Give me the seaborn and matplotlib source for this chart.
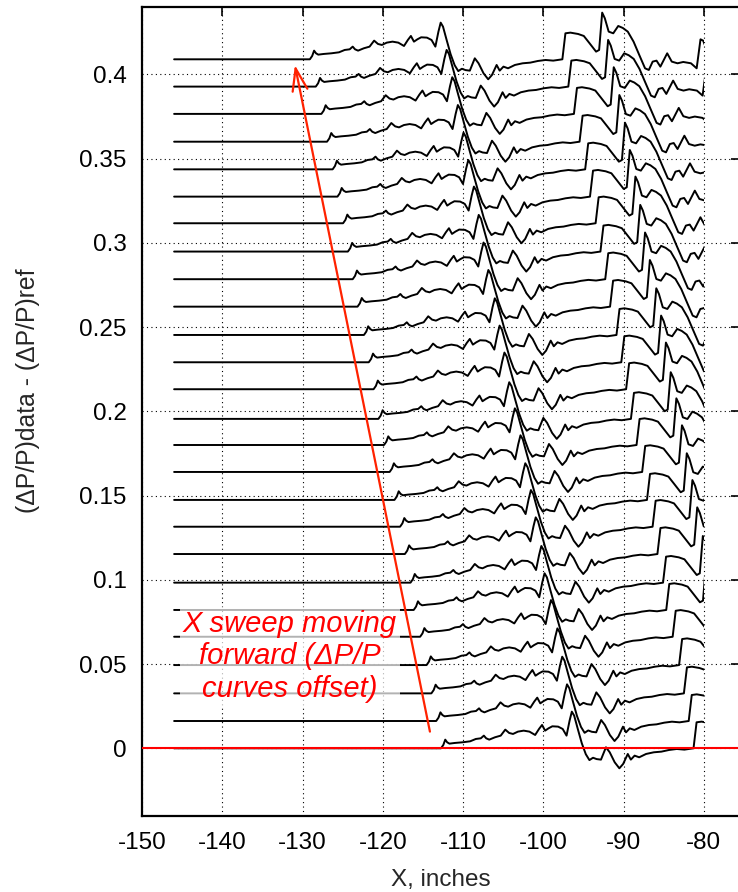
import numpy as np
import pandas as pd
import matplotlib
matplotlib.use("Agg")
import matplotlib.pyplot as plt
import seaborn as sns
from matplotlib.patches import Rectangle
from matplotlib import font_manager

# ---------------- data ----------------
# shape of the top (reference) trace after its first step, x in inches
ref_x = [-129.09, -128.80, -128.56, -128.32, -128.04, -127.37, -126.41, -125.46,
         -124.75, -124.13, -123.75, -123.46, -123.08, -122.37, -121.65, -121.08,
         -120.60, -120.12, -119.51, -118.79, -118.07, -117.36, -116.88, -116.50,
         -116.12, -115.69, -115.22, -114.50, -113.93, -113.45, -113.07, -112.79,
         -112.50, -112.05, -111.55, -111.05, -110.60, -110.15, -109.70, -109.16,
         -108.54, -108.07, -107.45, -106.87, -106.40, -105.82, -105.44, -104.97,
         -104.40, -103.54, -102.58, -101.63, -100.68, -99.72, -98.77, -97.63,
         -97.25, -96.63, -95.67, -94.96, -94.24, -93.43, -93.05, -92.67,
         -92.34, -91.86, -91.29, -90.67, -90.10, -89.48, -88.76, -88.05,
         -87.33, -86.86, -86.38, -85.90, -85.42, -84.57, -84.00, -83.28,
         -82.57, -81.61, -80.90, -80.42, -80.09, -79.80]
ref_dy = [0.0, 0.00198, 0.00514, 0.00356, 0.00277, 0.00317, 0.00356, 0.00415,
          0.00554, 0.00593, 0.00752, 0.00593, 0.00514, 0.00653, 0.00752, 0.01108,
          0.00910, 0.00851, 0.00989, 0.01048, 0.00989, 0.00791, 0.01147, 0.01385,
          0.01048, 0.01187, 0.01306, 0.01286, 0.01147, 0.00752, 0.01642, 0.02176,
          0.01939, 0.01150, 0.00300, -0.00350, -0.00700, -0.00560, -0.00640, -0.00673,
          0.00059, -0.00237, -0.00831, -0.01187, -0.00930, -0.00336, -0.00673, -0.00435,
          -0.00534, -0.00336, -0.00237, -0.00198, -0.00099, -0.00040, -0.00079, 0.0,
          0.01543, 0.01583, 0.01503, 0.01385, 0.00950, 0.00455, 0.00554, 0.02770,
          0.02433, 0.01642, 0.01543, 0.01978, 0.01860, 0.01642, 0.01048, 0.00257,
          -0.00534, -0.00633, -0.00138, -0.00079, -0.00435, 0.00356, -0.00138, -0.00237,
          -0.00158, -0.00237, -0.00534, 0.01187, 0.01108, 0.00752]

# position of the first step of every trace (bottom trace first)
step_x = [-112.6, -113.2, -113.8, -114.4, -115.2, -116.0, -116.4, -117.1, -117.7,
          -118.4, -119.0, -119.7, -120.4, -121.0, -121.6, -122.2, -123.0, -123.6,
          -124.2, -124.8, -125.5, -126.1, -126.8, -127.5, -128.2, -128.94]
# vertical offset of every trace
offsets = [0.0, 0.0162, 0.0326, 0.0494, 0.0662, 0.0821, 0.0983, 0.1153, 0.1315,
           0.1474, 0.1640, 0.1800, 0.1955, 0.2131, 0.2291, 0.2453, 0.2621, 0.2784,
           0.2948, 0.3116, 0.3274, 0.3436, 0.3600, 0.3765, 0.3927, 0.4089]
x_start = -146.0
x_end = -80.0

x_ticks = [-150, -140, -130, -120, -110, -100, -90, -80]
y_ticks = [0, 0.05, 0.1, 0.15, 0.2, 0.25, 0.3, 0.35, 0.4]
y_tick_labels = ["0", "0.05", "0.1", "0.15", "0.2", "0.25", "0.3", "0.35", "0.4"]

# ---------------- build table ----------------
rows = []
ref_step = step_x[-1]
for i, (sx, off) in enumerate(zip(step_x, offsets)):
    shift = sx - ref_step
    rows.append((i, x_start, off))
    for xx, dy in zip(ref_x, ref_dy):
        rows.append((i, xx + shift, off + dy))
df = pd.DataFrame(rows, columns=["curve", "x", "y"])

# ---------------- plot ----------------
sns.set_style("white")
plt.rcParams["font.family"] = ["Liberation Sans", "DejaVu Sans"]
installed = {f.name for f in font_manager.fontManager.ttflist}
narrow = "Liberation Sans Narrow" in installed

W, H = 738, 892
fig = plt.figure(figsize=(W / 100, H / 100), dpi=100)
ax = fig.add_axes([142 / W, (H - 815.7) / H, 598 / W, (815.7 - 6.9) / H])

sns.lineplot(data=df, x="x", y="y", units="curve", estimator=None, sort=False,
             color="black", lw=1.4, ax=ax, legend=False)
clip = Rectangle((-150, -1), x_end + 150, 2, transform=ax.transData)
for ln in ax.lines:
    ln.set_clip_path(clip)
    ln.set_solid_joinstyle("round")
    ln.set_solid_capstyle("round")

ax.axhline(0, color="#ff0000", lw=1.5, zorder=3)

ax.set_xlim(-150, -75.5)
ax.set_ylim(-0.04, 0.44)
ax.set_xticks(x_ticks)
ax.set_xticklabels([str(t) for t in x_ticks])
ax.set_yticks(y_ticks)
ax.set_yticklabels(y_tick_labels)
ax.grid(True, color="black", linestyle=(0, (1, 3)), lw=0.8)
ax.set_axisbelow(True)
ax.tick_params(direction="in", length=6.5, width=1.2, top=True, right=True,
               labelsize=17.5, colors="black")
ax.tick_params(axis="x", pad=11.5)
ax.tick_params(axis="y", pad=11)
for s in ax.spines.values():
    s.set_linewidth(1.6)
    s.set_color("black")

ax.set_xlabel("X, inches", fontsize=17.5)
ax.xaxis.set_label_coords(0.5, -0.0660)
if narrow:
    ax.set_ylabel("(\u0394P/P)data - (\u0394P/P)ref", fontsize=21.5,
                  family=["Liberation Sans Narrow", "Liberation Sans"])
    ax.yaxis.set_label_coords(-0.166, 0.526)
else:
    ax.set_ylabel("(\u0394P/P)data - (\u0394P/P)ref", fontsize=17.8)
    ax.yaxis.set_label_coords(-0.170, 0.526)

ax.annotate("", xy=(-130.95, 0.4055), xytext=(-114.13, 0.0099),
            arrowprops=dict(arrowstyle="->,head_length=0.8,head_width=0.27",
                            mutation_scale=20, color="#ff2200", lw=1.6,
                            shrinkA=0, shrinkB=0), zorder=4)

ax.text(-131.57, 0.0545, "X sweep moving\nforward (\u0394P/P\ncurves offset)",
        color="#ff0000", fontsize=21, style="italic", ha="center", va="center",
        linespacing=1.2, zorder=5,
        bbox=dict(facecolor="white", alpha=0.7, edgecolor="none",
                  boxstyle="square,pad=0.1"))

fig.savefig("out.png", dpi=100)
